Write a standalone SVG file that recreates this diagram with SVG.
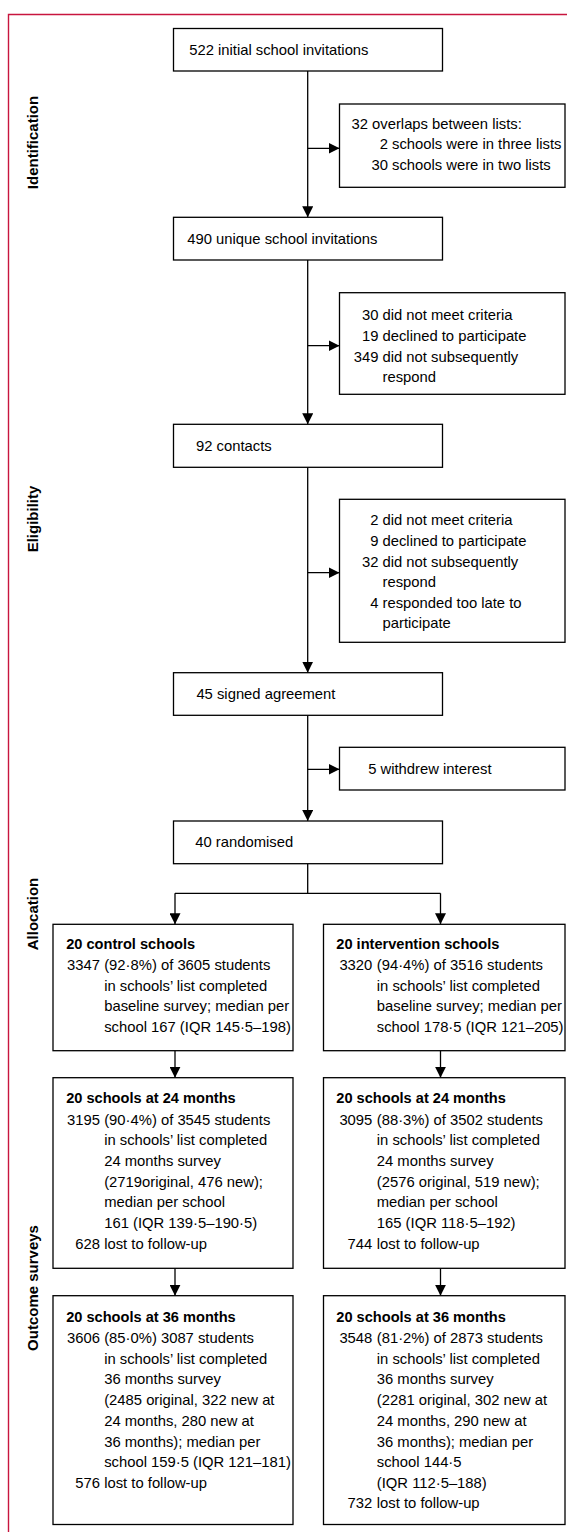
<svg xmlns="http://www.w3.org/2000/svg" width="567" height="1532" viewBox="0 0 567 1532">
<style>
.box{fill:#fff;stroke:#000;stroke-width:1.3}
.t{font-family:"Liberation Sans",Arial,sans-serif;font-size:14.8px;fill:#000}
.b{font-weight:bold;font-size:14.6px}
.n{text-anchor:end}
.lab{font-family:"Liberation Sans",Arial,sans-serif;font-weight:bold;font-size:15px;text-anchor:middle;fill:#000}
.c{stroke:#000;stroke-width:1.3;fill:none}
.frame{stroke:#c8153e;stroke-width:1.4;fill:none}
</style>
<defs>
<marker id="ah" viewBox="0 0 10 10" refX="10" refY="5" markerWidth="11" markerHeight="11" markerUnits="userSpaceOnUse" orient="auto">
<path d="M0,0 L10,5 L0,10 z" fill="#000"/>
</marker>
</defs>
<rect width="567" height="1532" fill="#fff"/>
<path class="frame" d="M8.5,1532 V14.5 H567"/>

<g id="labels">
<text class="lab" transform="translate(38,142.5) rotate(-90)">Identification</text>
<text class="lab" transform="translate(38,519) rotate(-90)">Eligibility</text>
<text class="lab" transform="translate(38,914) rotate(-90)">Allocation</text>
<text class="lab" transform="translate(38,1288) rotate(-90)">Outcome surveys</text>
</g>

<g id="connectors">
<path class="c" d="M307.7,71 V217.3" marker-end="url(#ah)"/>
<path class="c" d="M307.7,148.3 H339.5" marker-end="url(#ah)"/>
<path class="c" d="M307.7,260 V424.3" marker-end="url(#ah)"/>
<path class="c" d="M307.7,345.7 H339.5" marker-end="url(#ah)"/>
<path class="c" d="M307.7,467.3 V672.7" marker-end="url(#ah)"/>
<path class="c" d="M307.7,572.7 H339.5" marker-end="url(#ah)"/>
<path class="c" d="M307.7,715.3 V821" marker-end="url(#ah)"/>
<path class="c" d="M307.7,769.3 H339.5" marker-end="url(#ah)"/>
<path class="c" d="M307.7,863.7 V893.3 M175,893.3 H440.5"/>
<path class="c" d="M175,893.3 V924.3" marker-end="url(#ah)"/>
<path class="c" d="M440.5,893.3 V924.3" marker-end="url(#ah)"/>
<path class="c" d="M175,1050.7 V1077.7" marker-end="url(#ah)"/>
<path class="c" d="M440.5,1050.7 V1077.7" marker-end="url(#ah)"/>
<path class="c" d="M175,1268.3 V1295.7" marker-end="url(#ah)"/>
<path class="c" d="M440.5,1268.3 V1295.7" marker-end="url(#ah)"/>
</g>

<g id="n-initial">
<rect class="box" x="173.5" y="28.5" width="269" height="42.5"/>
<text class="t" x="189.2" y="54.5">522 initial school invitations</text>
</g>
<g id="n-overlaps">
<rect class="box" x="339.5" y="104" width="225.5" height="83.3"/>
<text class="t" x="351.5" y="128.5">32 overlaps between lists:</text>
<text class="t n" x="388" y="149">2</text><text class="t" x="392" y="149">schools were in three lists</text>
<text class="t n" x="388" y="169.5">30</text><text class="t" x="392" y="169.5">schools were in two lists</text>
</g>
<g id="n-unique">
<rect class="box" x="173.5" y="217.3" width="269" height="42.7"/>
<text class="t" x="187.3" y="243.5">490 unique school invitations</text>
</g>
<g id="n-excl1">
<rect class="box" x="339.5" y="292.7" width="225.5" height="101.6"/>
<text class="t n" x="378.5" y="320">30</text><text class="t" x="382.5" y="320">did not meet criteria</text>
<text class="t n" x="378.5" y="340.7">19</text><text class="t" x="382.5" y="340.7">declined to participate</text>
<text class="t n" x="378.5" y="361.5">349</text><text class="t" x="382.5" y="361.5">did not subsequently</text>
<text class="t" x="382.5" y="382">respond</text>
</g>
<g id="n-contacts">
<rect class="box" x="173.5" y="424.3" width="269" height="43"/>
<text class="t" x="196" y="451">92 contacts</text>
</g>
<g id="n-excl2">
<rect class="box" x="339.5" y="499.3" width="225.5" height="143"/>
<text class="t n" x="378.5" y="525">2</text><text class="t" x="382.5" y="525">did not meet criteria</text>
<text class="t n" x="378.5" y="545.7">9</text><text class="t" x="382.5" y="545.7">declined to participate</text>
<text class="t n" x="378.5" y="566.5">32</text><text class="t" x="382.5" y="566.5">did not subsequently</text>
<text class="t" x="382.5" y="587.2">respond</text>
<text class="t n" x="378.5" y="607.6">4</text><text class="t" x="382.5" y="607.6">responded too late to</text>
<text class="t" x="382.5" y="628.3">participate</text>
</g>
<g id="n-signed">
<rect class="box" x="173.5" y="672.7" width="269" height="42.6"/>
<text class="t" x="196.4" y="699">45 signed agreement</text>
</g>
<g id="n-withdrew">
<rect class="box" x="339.5" y="747.3" width="225.5" height="42.7"/>
<text class="t" x="368.2" y="773.5">5 withdrew interest</text>
</g>
<g id="n-randomised">
<rect class="box" x="173.5" y="821" width="269" height="42.7"/>
<text class="t" x="195.3" y="846.8">40 randomised</text>
</g>

<g id="n-control">
<rect class="box" x="53" y="924.3" width="240" height="126.4"/>
<text class="t b" x="66.2" y="949">20 control schools</text>
<text class="t n" x="100" y="970">3347</text><text class="t" x="104.2" y="970">(92·8%) of 3605 students</text>
<text class="t" x="104.2" y="990.6">in schools’ list completed</text>
<text class="t" x="104.2" y="1011">baseline survey; median per</text>
<text class="t" x="104.2" y="1031.5">school 167 (IQR 145·5–198)</text>
</g>
<g id="n-intervention">
<rect class="box" x="323.5" y="924.3" width="241.5" height="126.4"/>
<text class="t b" x="336.3" y="949">20 intervention schools</text>
<text class="t n" x="372.3" y="970">3320</text><text class="t" x="376.8" y="970">(94·4%) of 3516 students</text>
<text class="t" x="376.8" y="990.6">in schools’ list completed</text>
<text class="t" x="376.8" y="1011">baseline survey; median per</text>
<text class="t" x="376.8" y="1031.5">school 178·5 (IQR 121–205)</text>
</g>

<g id="n-control-24">
<rect class="box" x="53" y="1077.7" width="240" height="190.6"/>
<text class="t b" x="66.2" y="1103.3">20 schools at 24 months</text>
<text class="t n" x="100" y="1124.5">3195</text><text class="t" x="104.2" y="1124.5">(90·4%) of 3545 students</text>
<text class="t" x="104.2" y="1145.2">in schools’ list completed</text>
<text class="t" x="104.2" y="1165.9">24 months survey</text>
<text class="t" x="104.2" y="1186.6">(2719original, 476 new);</text>
<text class="t" x="104.2" y="1207.3">median per school</text>
<text class="t" x="104.2" y="1228">161 (IQR 139·5–190·5)</text>
<text class="t n" x="100" y="1248.7">628</text><text class="t" x="104.2" y="1248.7">lost to follow-up</text>
</g>
<g id="n-intervention-24">
<rect class="box" x="323.5" y="1077.7" width="241.5" height="190.6"/>
<text class="t b" x="336.3" y="1103.3">20 schools at 24 months</text>
<text class="t n" x="372.3" y="1124.5">3095</text><text class="t" x="376.8" y="1124.5">(88·3%) of 3502 students</text>
<text class="t" x="376.8" y="1145.2">in schools’ list completed</text>
<text class="t" x="376.8" y="1165.9">24 months survey</text>
<text class="t" x="376.8" y="1186.6">(2576 original, 519 new);</text>
<text class="t" x="376.8" y="1207.3">median per school</text>
<text class="t" x="376.8" y="1228">165 (IQR 118·5–192)</text>
<text class="t n" x="372.3" y="1248.7">744</text><text class="t" x="376.8" y="1248.7">lost to follow-up</text>
</g>

<g id="n-control-36">
<rect class="box" x="53" y="1295.7" width="240" height="228.8"/>
<text class="t b" x="66.2" y="1321.7">20 schools at 36 months</text>
<text class="t n" x="100" y="1343">3606</text><text class="t" x="104.2" y="1343">(85·0%) 3087 students</text>
<text class="t" x="104.2" y="1363.7">in schools’ list completed</text>
<text class="t" x="104.2" y="1384.4">36 months survey</text>
<text class="t" x="104.2" y="1405.1">(2485 original, 322 new at</text>
<text class="t" x="104.2" y="1425.8">24 months, 280 new at</text>
<text class="t" x="104.2" y="1446.5">36 months); median per</text>
<text class="t" x="104.2" y="1467.2">school 159·5 (IQR 121–181)</text>
<text class="t n" x="100" y="1487.5">576</text><text class="t" x="104.2" y="1487.5">lost to follow-up</text>
</g>
<g id="n-intervention-36">
<rect class="box" x="323.5" y="1295.7" width="241.5" height="228.8"/>
<text class="t b" x="336.3" y="1321.7">20 schools at 36 months</text>
<text class="t n" x="372.3" y="1343">3548</text><text class="t" x="376.8" y="1343">(81·2%) of 2873 students</text>
<text class="t" x="376.8" y="1363.7">in schools’ list completed</text>
<text class="t" x="376.8" y="1384.4">36 months survey</text>
<text class="t" x="376.8" y="1405.1">(2281 original, 302 new at</text>
<text class="t" x="376.8" y="1425.8">24 months, 290 new at</text>
<text class="t" x="376.8" y="1446.5">36 months); median per</text>
<text class="t" x="376.8" y="1467.2">school 144·5</text>
<text class="t" x="376.8" y="1487.5">(IQR 112·5–188)</text>
<text class="t n" x="372.3" y="1508.3">732</text><text class="t" x="376.8" y="1508.3">lost to follow-up</text>
</g>
</svg>
